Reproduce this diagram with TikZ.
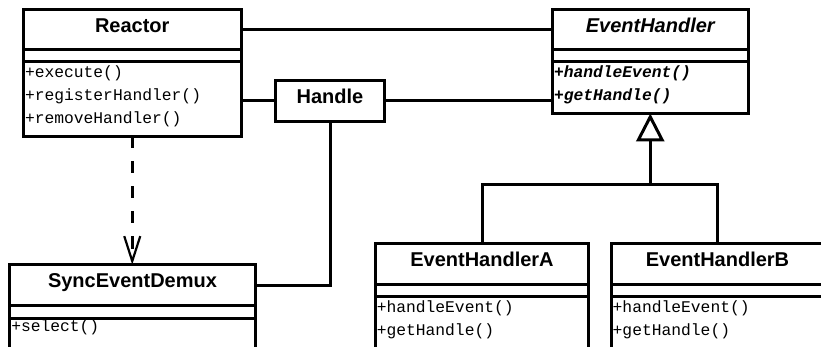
\documentclass[tikz,border=0pt]{standalone}
\usepackage{fontspec}
\setmainfont{Liberation Sans}
\newfontfamily\umlmono{Liberation Mono}
\usepackage{tikz}
\usetikzlibrary{positioning,arrows.meta}
\tikzset{uml/.style={draw, line width=3pt, outer sep=0pt, inner sep=0pt},
         clsname/.style={uml, font=\fontsize{20}{24}\selectfont\bfseries,
         text height=21.5pt, text depth=17pt, minimum height=40pt},
         clsattr/.style={uml, minimum height=#1},
         clsmeth/.style={uml, align=left, inner xsep=1.5pt,
         font=\fontsize{16.3}{23}\selectfont\umlmono, text height=16.5pt},
         link/.style={line width=3pt},
         dep/.style={link, dash pattern=on 12pt off 13pt,
         -{Straight Barb[length=25pt, width=16pt, line width=2.2pt]}},
         inherit/.style={link, -{Triangle[open, length=28pt, width=28pt]}}}

\begin{document}
\begin{tikzpicture}[x=1pt, y=-1pt]
\path[use as bounding box, clip] (0,0) rectangle (821,347);
\node[clsname, minimum width=217.5pt] (reactor) at (132.25,30) {Reactor};
\node[clsattr=11.5pt, minimum width=217.5pt, below=0pt of reactor] (reactorattr) {};
\node[clsmeth, text width=214.5pt, text depth=58.5pt, below=0pt of reactorattr] (reactormeth) {+execute()\\+registerHandler()\\+removeHandler()};
\node[clsname, font=\fontsize{20}{24}\selectfont\bfseries\itshape, minimum width=195.5pt] (eventhandler) at (650.25,30) {EventHandler};
\node[clsattr=11.5pt, minimum width=195.5pt, below=0pt of eventhandler] (ehattr) {};
\node[clsmeth, font=\fontsize{16.3}{23}\selectfont\umlmono\bfseries\itshape, text width=192.5pt, text depth=35.5pt, below=0pt of ehattr] (ehmeth) {+handleEvent()\\+getHandle()};
\node[clsname, minimum width=109pt, minimum height=41pt] (handle) at (330,101) {Handle};
\node[clsname, minimum width=245.5pt, minimum height=40.5pt] (sync) at (132.5,285) {SyncEventDemux};
\node[clsattr=13pt, minimum width=245.5pt, below=0pt of sync] (syncattr) {};
\node[clsmeth, text width=242.5pt, text height=13.5pt, text depth=40pt, below=0pt of syncattr] (syncmeth) {+select()};
\node[clsname, minimum width=213.5pt] (eha) at (482,264) {EventHandlerA};
\node[clsattr=12.3pt, minimum width=213.5pt, below=0pt of eha] (ehaattr) {};
\node[clsmeth, text width=210.5pt, text height=16pt, text depth=40pt, below=0pt of ehaattr] (ehameth) {+handleEvent()\\+getHandle()};
\node[clsname, minimum width=212.6pt] (ehb) at (717.5,264) {EventHandlerB};
\node[clsattr=12.3pt, minimum width=212.6pt, below=0pt of ehb] (ehbattr) {};
\node[clsmeth, text width=209.6pt, text height=16pt, text depth=40pt, below=0pt of ehbattr] (ehbmeth) {+handleEvent()\\+getHandle()};
\coordinate (split) at (ehmeth.south |- 0,185);
\draw[link] (reactor.east) -- (eventhandler.west);
\draw[link] (reactormeth.east |- handle.west) -- (handle.west);
\draw[link] (handle.east) -- (handle.east -| ehmeth.west);
\draw[link] (handle.south) |- (sync.east);
\draw[dep] (reactormeth.south) -- (reactormeth.south |- sync.north);
\draw[link] (eha.north) |- (split) -| (ehb.north);
\draw[inherit] (split) -- (ehmeth.south);
\end{tikzpicture}
\end{document}
